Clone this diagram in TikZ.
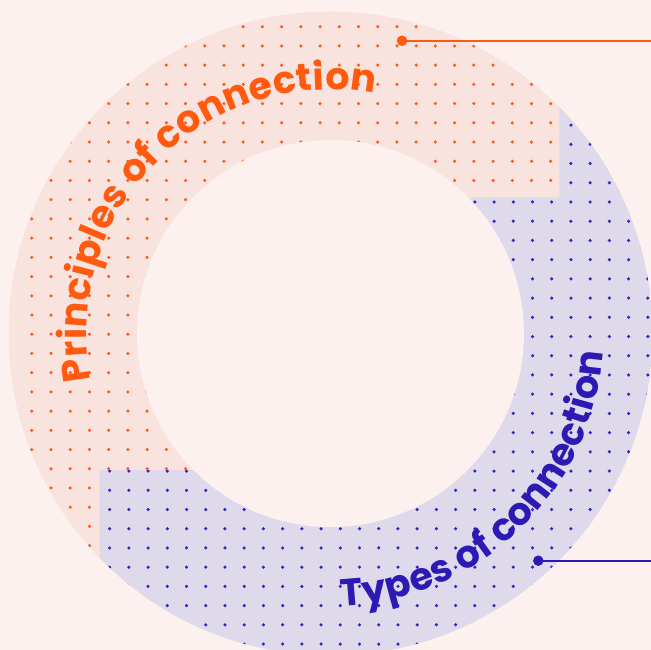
\documentclass[tikz,border=0pt]{standalone}
\usepackage{fontspec}
\newfontfamily\popfont{Poppins}
\usetikzlibrary{decorations.text}

\definecolor{bg}{HTML}{FCF1EE}
\definecolor{ringorange}{HTML}{F9E3DE}
\definecolor{ringblue}{HTML}{DEDAEC}
\definecolor{dotorange}{HTML}{FF5A1E}
\definecolor{dotblue}{HTML}{3A22C0}
\definecolor{txtorange}{HTML}{FF5A0F}
\definecolor{txtblue}{HTML}{2D1AB4}

\tikzset{
  griddot/.style={radius=1.75},
  enddot/.style={circle, inner sep=0pt, minimum size=10.5pt},
  leader/.style={line width=2pt},
}

\begin{document}
\begin{tikzpicture}[x=1pt,y=1pt]
  \useasboundingbox (0,0) rectangle (651,650);
  \fill[bg] (0,0) rectangle (651,650);
  \coordinate (C) at (330.5,316.5);

  % orange half of the ring with its dot grid
  \begin{scope}
    \clip (C) circle[radius=322];
    \fill[ringorange] (C) circle[radius=322];
    \foreach \i in {-1,...,33}
      \foreach \j in {0,...,34}
        \fill[dotorange] ({51+19.22*\i},{642.5-19.22*\j}) circle[griddot];
  \end{scope}

  % blue half of the ring, stepped boundary
  \begin{scope}
    \clip (C) circle[radius=322];
    \clip (559.3,660) -- (700,660) -- (700,-50) -- (99.5,-50) -- (99.5,180)
          -- (330,180) -- (330,452.7) -- (559.3,452.7) -- cycle;
    \fill[ringblue] (0,0) rectangle (651,650);
    \foreach \i in {-1,...,33}
      \foreach \j in {0,...,34}
        \fill[dotblue] ({52+19.22*\i},{640.2-19.22*\j}) circle[griddot];
  \end{scope}

  % hole of the ring
  \fill[bg] (C) circle[radius=193.5];

  % curved labels
  \path[decorate, decoration={text along path, text align=fit to path,
      text={|\popfont\bfseries\fontsize{38}{38}\selectfont\color{txtorange}|Principles of connection}}]
    (C) ++(191:244) arc[start angle=191, end angle=79.5, radius=244];
  \path[decorate, decoration={text along path, text align=fit to path,
      text={|\popfont\bfseries\fontsize{38}{38}\selectfont\color{txtblue}|Types of connection}}]
    (C) ++(272.4:273) arc[start angle=272.4, end angle=356.1, radius=273];

  % leader lines
  \node[enddot, fill=txtorange] (pdot) at (402,609.3) {};
  \coordinate (pend) at (651,609.3);
  \draw[leader, txtorange] (pdot.center) -- (pend);

  \node[enddot, fill=txtblue] (tdot) at (538.3,89.3) {};
  \coordinate (tend) at (651,89.3);
  \draw[leader, txtblue] (tdot.center) -- (tend);
\end{tikzpicture}
\end{document}
